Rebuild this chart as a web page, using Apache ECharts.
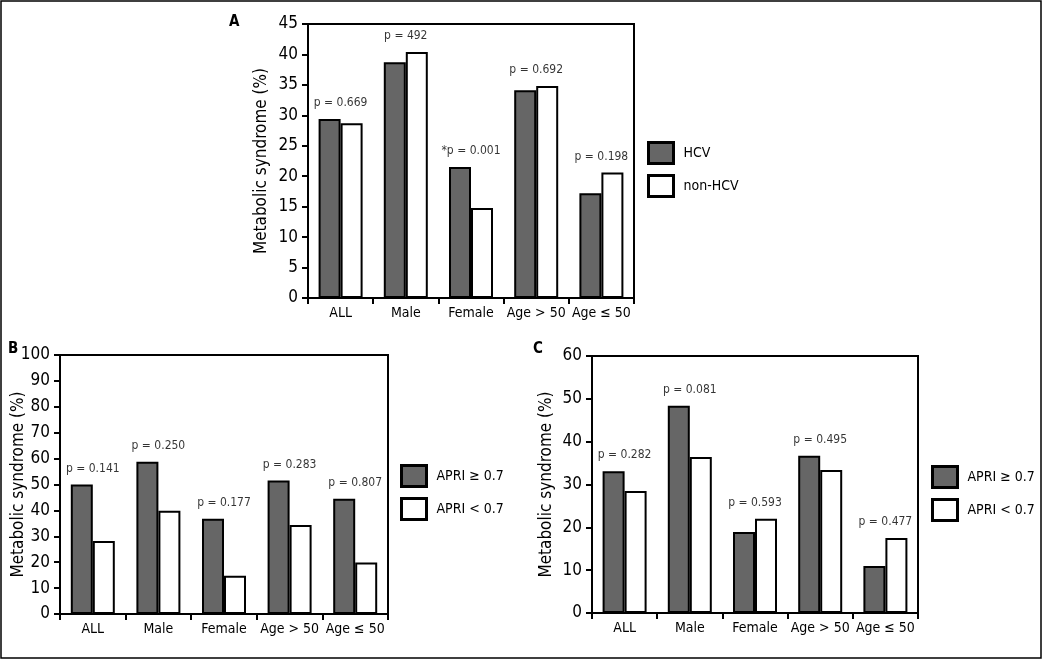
<!DOCTYPE html>
<html>
<head>
<meta charset="utf-8">
<script src="https://cdn.jsdelivr.net/npm/echarts@6/dist/echarts.min.js"></script>
<style>
html,body{margin:0;padding:0;background:#fff;}
#chart{width:1043px;height:660px;}
</style>
</head>
<body>
<div id="chart"></div>
<script>
// ---- data ----
var categories = ['ALL', 'Male', 'Female', 'Age > 50', 'Age \u2264 50'];

var hcvA = [29.4, 38.7, 21.5, 34.1, 17.2];
var nonHcvA = [28.7, 40.4, 14.8, 34.8, 20.6];
var pLabelsA = ['p = 0.669', 'p = 492', '*p = 0.001', 'p = 0.692', 'p = 0.198'];

var apriHighB = [50.0, 58.8, 36.8, 51.5, 44.5];
var apriLowB = [28.2, 39.9, 14.8, 34.4, 19.9];
var pLabelsB = ['p = 0.141', 'p = 0.250', 'p = 0.177', 'p = 0.283', 'p = 0.807'];

var apriHighC = [33.1, 48.4, 18.9, 36.7, 11.0];
var apriLowC = [28.5, 36.4, 22.0, 33.4, 17.5];
var pLabelsC = ['p = 0.282', 'p = 0.081', 'p = 0.593', 'p = 0.495', 'p = 0.477'];

var yTicksA = {min: 0, max: 45, interval: 5};
var yTicksB = {min: 0, max: 100, interval: 10};
var yTicksC = {min: 0, max: 60, interval: 10};

var seriesNamesA = ['HCV', 'non-HCV'];
var seriesNamesBC = ['APRI \u2265 0.7', 'APRI < 0.7'];

// ---- styling ----
var FONT = '"DejaVu Sans Condensed", "DejaVu Sans", sans-serif';
var GRAY = '#666666';

function maxOf(a, b) { return a.map(function (v, i) { return Math.max(v, b[i]); }); }

function xAxisFor(idx) {
  return {
    type: 'category', gridIndex: idx, data: categories,
    axisLine: {lineStyle: {color: '#000', width: 2}},
    axisTick: {show: true, length: 6, lineStyle: {color: '#000', width: 2}},
    axisLabel: {color: '#000', fontFamily: FONT, fontSize: 14, margin: 8, interval: 0}
  };
}
function yAxisFor(idx, t, gap) {
  return {
    type: 'value', gridIndex: idx, min: t.min, max: t.max, interval: t.interval,
    name: 'Metabolic syndrome (%)', nameLocation: 'middle', nameGap: gap,
    nameMoveOverlap: false,
    nameTextStyle: {color: '#000', fontFamily: FONT, fontSize: 17},
    axisLine: {show: true, lineStyle: {color: '#000', width: 2}},
    axisTick: {show: true, length: 6, lineStyle: {color: '#000', width: 2}},
    axisLabel: {color: '#000', fontFamily: FONT, fontSize: 17, margin: 10},
    splitLine: {show: false}
  };
}
function barSeries(name, idx, data, fill) {
  return {
    type: 'bar', name: name, xAxisIndex: idx, yAxisIndex: idx, data: data,
    barWidth: 22, barGap: '0%',
    itemStyle: {color: fill, borderColor: '#000', borderWidth: 2},
    emphasis: {disabled: true}
  };
}
function pSeries(idx, a, b, labels) {
  return {
    type: 'scatter', xAxisIndex: idx, yAxisIndex: idx, data: maxOf(a, b),
    symbolSize: 0, silent: true,
    label: {
      show: true, position: 'top', distance: 10, color: '#000',
      fontFamily: FONT, fontSize: 12,
      formatter: function (p) { return labels[p.dataIndex]; }
    }
  };
}
function legendFor(names, left, top) {
  return {
    data: names.map(function (n) { return {name: n, icon: 'rect'}; }),
    left: left, top: top, orient: 'vertical', padding: 0,
    itemWidth: 25, itemHeight: 21, itemGap: 9, selectedMode: false,
    itemStyle: {borderColor: '#000', borderWidth: 3},
    textStyle: {color: '#000', fontFamily: FONT, fontSize: 14, padding: [0, 0, 0, 5]}
  };
}

var gridStyle = {show: true, borderColor: '#000', borderWidth: 2, containLabel: false};

var option = {
  animation: false,
  backgroundColor: '#fff',
  grid: [
    Object.assign({left: 308, top: 24, width: 326, height: 274}, gridStyle),
    Object.assign({left: 60, top: 355, width: 328, height: 259}, gridStyle),
    Object.assign({left: 592, top: 356, width: 326, height: 257}, gridStyle)
  ],
  xAxis: [xAxisFor(0), xAxisFor(1), xAxisFor(2)],
  yAxis: [yAxisFor(0, yTicksA, 38), yAxisFor(1, yTicksB, 33), yAxisFor(2, yTicksC, 37)],
  legend: [
    legendFor(seriesNamesA, 647, 141),
    legendFor(seriesNamesBC, 400, 464),
    legendFor(seriesNamesBC, 931, 465)
  ],
  series: [
    barSeries(seriesNamesA[0], 0, hcvA, GRAY),
    barSeries(seriesNamesA[1], 0, nonHcvA, '#fff'),
    pSeries(0, hcvA, nonHcvA, pLabelsA),
    barSeries(seriesNamesBC[0], 1, apriHighB, GRAY),
    barSeries(seriesNamesBC[1], 1, apriLowB, '#fff'),
    pSeries(1, apriHighB, apriLowB, pLabelsB),
    barSeries(seriesNamesBC[0], 2, apriHighC, GRAY),
    barSeries(seriesNamesBC[1], 2, apriLowC, '#fff'),
    pSeries(2, apriHighC, apriLowC, pLabelsC)
  ],
  graphic: [
    {type: 'rect', shape: {x: 1, y: 1, width: 1040, height: 657},
     style: {fill: 'none', stroke: '#000', lineWidth: 1.5}, silent: true},
    {type: 'text', left: 229, top: 15, style: {text: 'A', fill: '#000', font: 'bold 15px ' + FONT}},
    {type: 'text', left: 8, top: 342, style: {text: 'B', fill: '#000', font: 'bold 15px ' + FONT}},
    {type: 'text', left: 533, top: 342, style: {text: 'C', fill: '#000', font: 'bold 15px ' + FONT}}
  ]
};

var chart = echarts.init(document.getElementById('chart'), null, {renderer: 'canvas'});
chart.setOption(option);
</script>
</body>
</html>
